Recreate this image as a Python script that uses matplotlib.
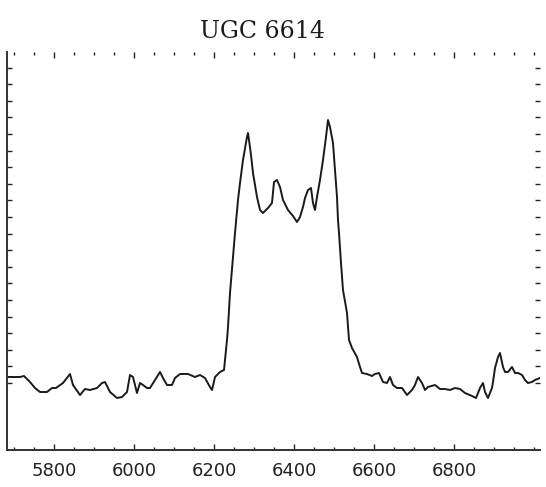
import numpy as np
import matplotlib
matplotlib.use("Agg")
import matplotlib.pyplot as plt
from matplotlib.ticker import MultipleLocator, FixedLocator

title = "UGC 6614"

wavelength = [
    5682.5, 5697.5, 5715, 5725, 5740, 5752.5, 5765, 5782.5, 5795, 5805,
    5822.5, 5840, 5847.5, 5865, 5877.5, 5890, 5907.5, 5920, 5927.5, 5940,
    5957.5, 5970, 5982.5, 5990, 5997.5, 6007.5, 6015, 6022.5, 6032.5, 6040,
    6052.5, 6065, 6072.5, 6082.5, 6095, 6102.5, 6115, 6135, 6152.5, 6165,
    6177.5, 6190, 6195, 6202.5, 6215, 6225, 6232.5, 6235, 6240, 6247.5,
    6252.5, 6260, 6265, 6272.5, 6282.5, 6285, 6287.5, 6292.5, 6297.5, 6307.5,
    6315, 6322.5, 6335, 6345, 6350, 6357.5, 6365, 6372.5, 6385, 6397.5,
    6407.5, 6415, 6422.5, 6427.5, 6435, 6442.5, 6447.5, 6452.5, 6457.5, 6465,
    6472.5, 6480, 6485, 6490, 6497.5, 6502.5, 6507.5, 6510, 6512.5, 6517.5,
    6522.5, 6532.5, 6537.5, 6545, 6557.5, 6565, 6570, 6582.5, 6595, 6602.5,
    6612.5, 6622.5, 6632.5, 6640, 6647.5, 6657.5, 6670, 6682.5, 6695, 6702.5,
    6710, 6720, 6727.5, 6735, 6752.5, 6765, 6777.5, 6790, 6802.5, 6815,
    6827.5, 6845, 6855, 6865, 6872.5, 6877.5, 6885, 6895, 6897.5, 6902.5,
    6910, 6915, 6922.5, 6927.5, 6935, 6945, 6952.5, 6960, 6970, 6977.5,
    6985, 6995, 7002.5, 7015,
]

flux = [
    2.0, 2.0, 2.0, 2.25, 0.75, -0.75, -1.75, -1.75, -0.75, -0.75,
    0.5, 2.75, 0.0, -2.5, -1.0, -1.25, -0.75, 0.5, 0.75, -1.75,
    -3.25, -3.0, -1.75, 2.5, 2.0, -2.0, 0.5, 0.0, -0.75, -0.75,
    1.25, 3.25, 1.75, 0.0, 0.0, 1.75, 2.75, 2.75, 2.0, 2.5,
    1.75, -0.5, -1.25, 2.0, 3.25, 3.75, 11.25, 14.5, 23.0, 32.0,
    38.0, 46.25, 50.5, 56.25, 62.0, 63.0, 61.25, 57.5, 53.0, 47.0,
    43.75, 43.0, 44.25, 45.5, 50.75, 51.25, 49.5, 46.25, 43.75, 42.25,
    40.75, 42.0, 44.5, 46.75, 48.75, 49.25, 45.5, 43.75, 47.0, 51.25,
    56.25, 62.0, 66.25, 64.5, 60.5, 53.75, 47.0, 41.25, 38.0, 30.5,
    23.75, 18.0, 11.25, 9.25, 7.0, 4.5, 3.0, 2.75, 2.25, 2.75,
    3.0, 0.75, 0.5, 2.0, 0.0, -0.75, -0.75, -2.5, -1.25, 0.0,
    2.0, 0.5, -1.25, -0.5, 0.0, -1.0, -1.0, -1.25, -0.75, -1.0,
    -2.0, -2.75, -3.25, -0.75, 0.5, -1.75, -3.25, -0.75, 0.75, 4.25,
    7.0, 8.0, 4.5, 3.25, 3.25, 4.5, 3.0, 3.0, 2.5, 1.25,
    0.5, 0.75, 1.25, 1.75,
]

xticks = [5800, 6000, 6200, 6400, 6600, 6800]

fig = plt.figure(figsize=(5.46, 4.87), dpi=100)
ax = fig.add_axes([7/546, 37/487, 533/546, 398/487])

ax.plot(wavelength, flux, color="#1a1a1a", lw=1.4)

ax.set_xlim(5682.5, 7015)
ax.set_ylim(-16.25, 83.25)

ax.xaxis.set_major_locator(FixedLocator(xticks))
ax.xaxis.set_minor_locator(MultipleLocator(50))
ax.set_xticklabels([str(v) for v in xticks])
ax.yaxis.set_major_locator(FixedLocator(np.arange(0.5, 83, 4.15)))
ax.set_yticklabels([])

ax.tick_params(axis="both", which="both", direction="in",
               top=True, right=True, color="#222222")
ax.tick_params(axis="x", which="major", length=4.5, width=1.0,
               labelsize=13, pad=9, labelcolor="#222222")
ax.tick_params(axis="x", which="minor", length=2.2, width=1.0)
ax.tick_params(axis="y", which="major", length=3.6, width=1.0)

for s in ["top", "right"]:
    ax.spines[s].set_visible(False)
for s in ["left", "bottom"]:
    ax.spines[s].set_linewidth(1.4)
    ax.spines[s].set_color("#333333")

for lab in ax.get_xticklabels():
    lab.set_family("DejaVu Sans")

fig.text(263/546, 1 - 31/487, title, ha="center", va="center",
         fontsize=17, family="DejaVu Serif", color="#1a1a1a")

fig.savefig("out.png", dpi=100)
